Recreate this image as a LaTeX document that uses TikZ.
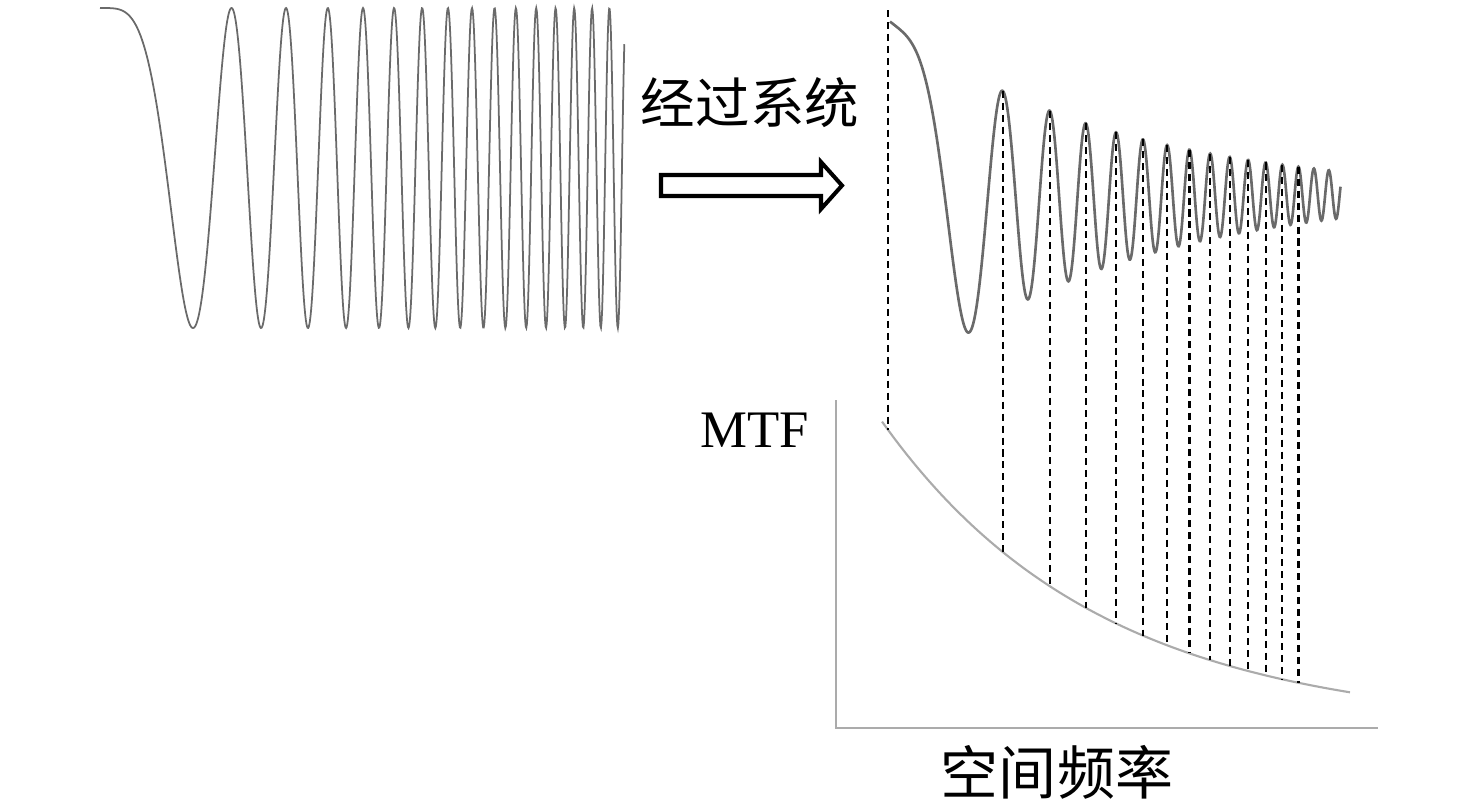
\documentclass[tikz,border=0pt]{standalone}
\usepackage{fontspec}
\setmainfont{Liberation Serif}
\newfontfamily\cjk{Noto Sans CJK SC}
\definecolor{wavegray}{HTML}{6A6A6A}
\definecolor{axisgray}{HTML}{ABABAB}
\begin{document}
\begin{tikzpicture}[x=0.01cm, y=-0.01cm,
            inwave/.style={draw=wavegray, line width=0.5pt},
            outwave/.style={draw=wavegray, line width=0.75pt},
            guide/.style={draw=black, line width=0.6pt, dash pattern=on 2pt off 1.4pt},
            axisline/.style={draw=axisgray, line width=0.6pt},
            label/.style={inner sep=0pt, text=black},
            declare function={
                env(\t)=exp(-0.0046*(\t-883));
                mtf(\t)=728-305*env(\t);
                inph(\t)=180*((\t-100)/93)*((\t-100)/93);
                outph(\t)=180*((\t-889)/80.3)*((\t-889)/80.3);
                out(\t)=193+15*env(\t)-192*env(\t)*cos(outph(\t));
            }]
            \useasboundingbox (0,0) rectangle (1476,811);

            \path (836,400) coordinate (Y1);
            \path (836,728) coordinate (O);
            \path (1378,728) coordinate (X1);

            \path (888,10) coordinate (T0);
            \path (888,{mtf(888)}) coordinate (B0);

            \draw[inwave] plot[domain=100:624.3, samples=900] (\x, {168-160*cos(inph(\x))});
            \draw[outwave] plot[domain=890:1340.5, samples=900] (\x, {out(\x)});

            \draw[axisline] (Y1) -- (O) -- (X1);
            \draw[axisline] plot[domain=882:1350, samples=80] (\x, {mtf(\x)});

            \draw[guide] (T0) -- (B0);
            \foreach \n in {1,...,13} {
                \pgfmathsetmacro\px{889+80.3*sqrt(2*\n)}
                \path (\px,{out(\px)}) coordinate (T\n);
                \path (\px,{mtf(\px)}) coordinate (B\n);
                \draw[guide] (T\n) -- (B\n);
            }

            \draw[line width=1.15pt, line join=miter, fill=white]
                (661,175) -- (821,175) -- (821,162) -- (842,185.5) -- (821,209) -- (821,196) -- (661,196) -- cycle;

            \node[label, font=\cjk\fontsize{15.5pt}{18pt}\selectfont] (syslabel) at (750,103) {经过系统};
            \node[label, anchor=base west, font=\fontsize{15pt}{18pt}\selectfont] (mtflabel) at (700,447) {MTF};
            \node[label, font=\cjk\fontsize{16.5pt}{19pt}\selectfont] (freqlabel) at (1057,772) {空间频率};
\end{tikzpicture}
\end{document}
